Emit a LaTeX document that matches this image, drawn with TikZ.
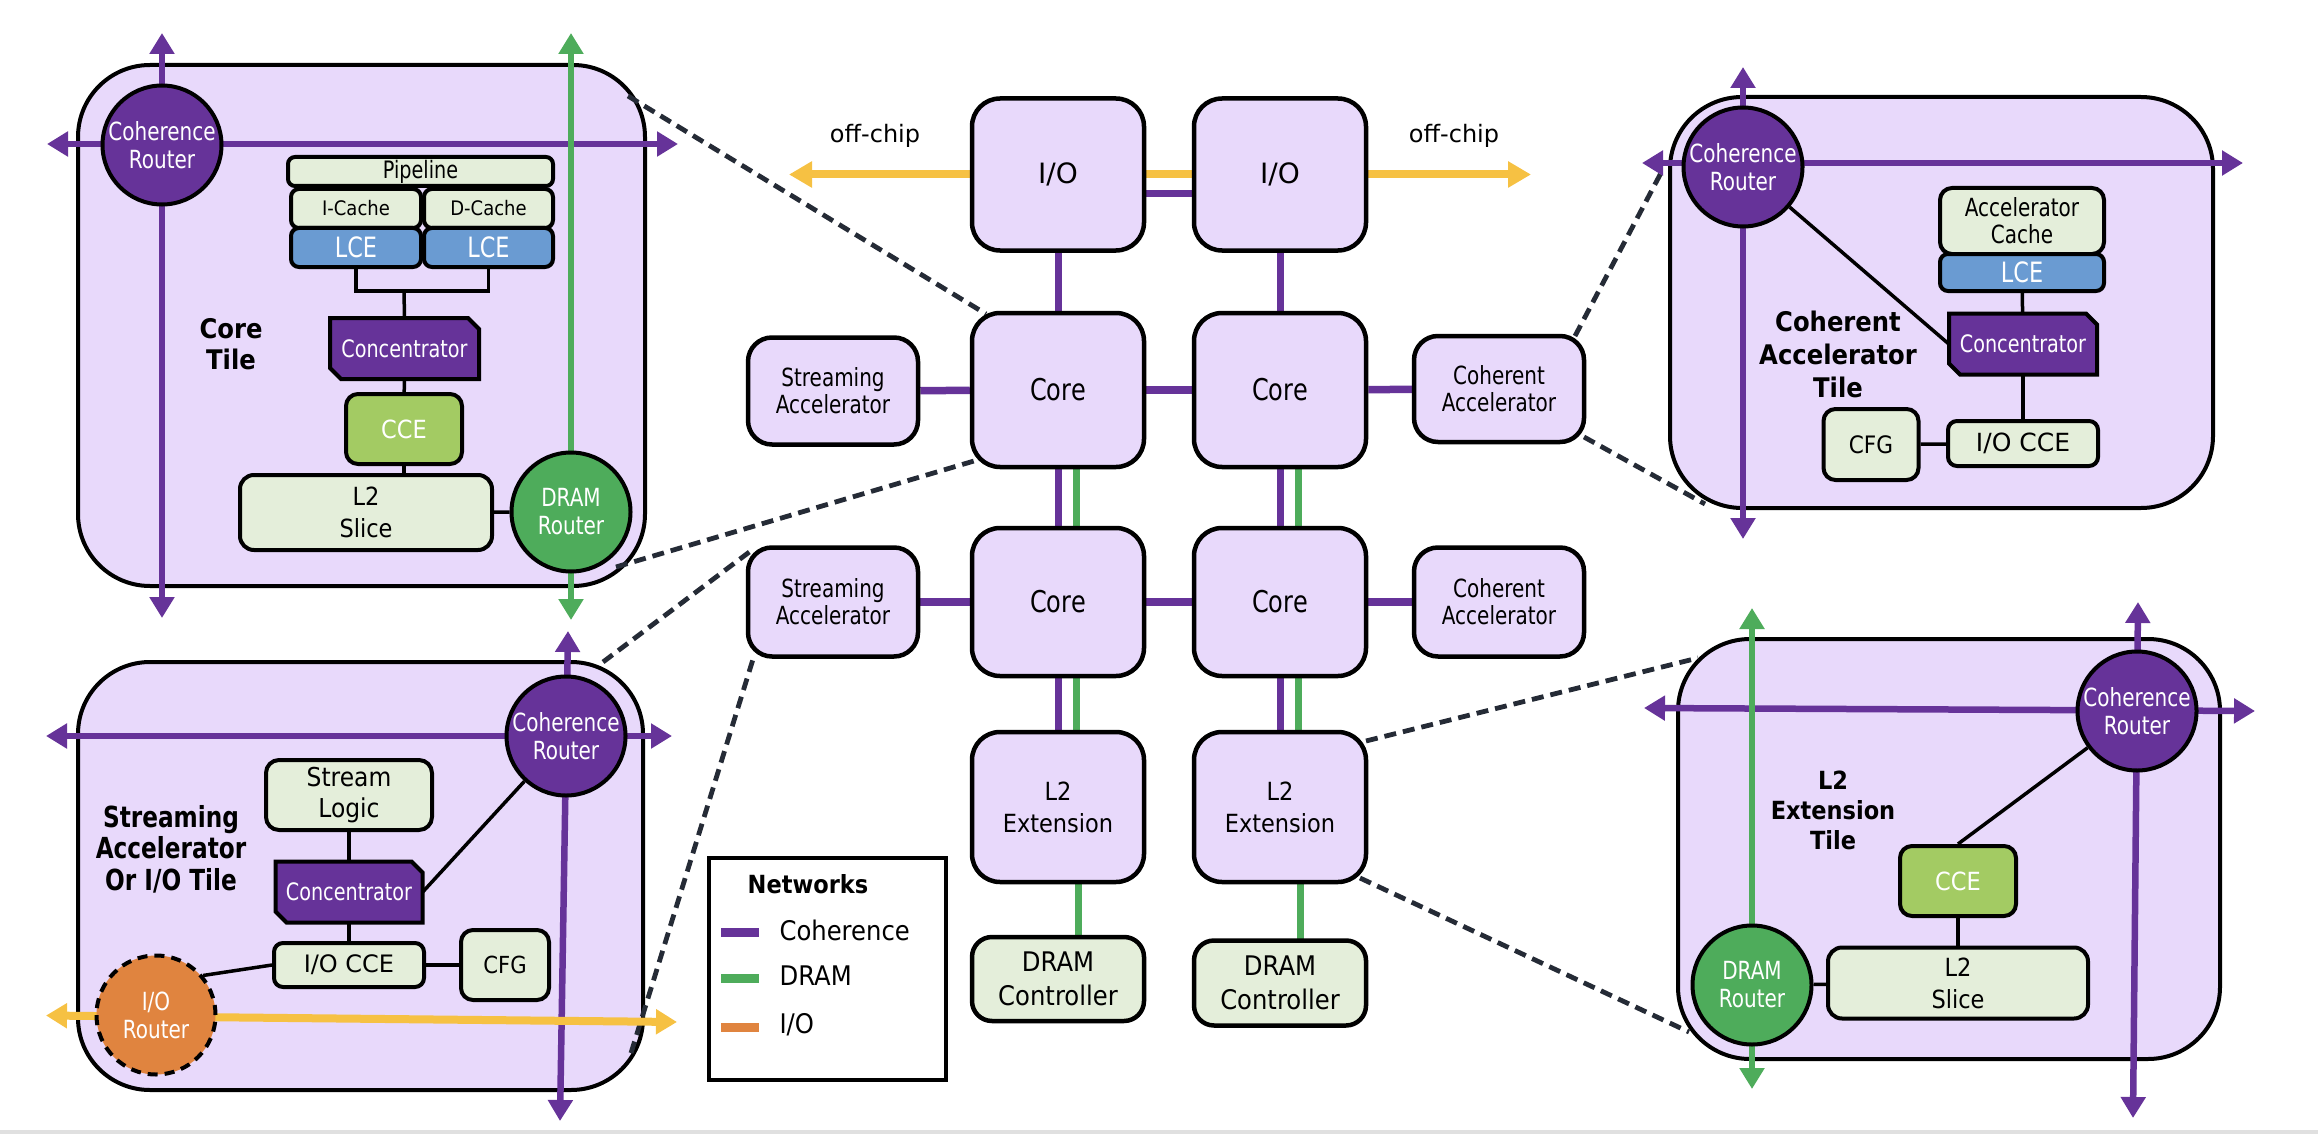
\documentclass[tikz,border=0pt]{standalone}
\usepackage{fontspec}
\setmainfont{DejaVu Sans}
\newfontfamily\semif{DejaVu Sans}[FakeStretch=0.9]
\newfontfamily\condf{DejaVu Sans}[FakeStretch=0.8]
\usetikzlibrary{arrows.meta,calc}
\pgfdeclarelayer{tiles}\pgfdeclarelayer{wires}\pgfsetlayers{tiles,wires,main}
\definecolor{lav}{HTML}{E8D9FB}
\definecolor{purp}{HTML}{663399}
\definecolor{grn}{HTML}{4EAC5B}
\definecolor{lgrn}{HTML}{E4EEDA}
\definecolor{ccec}{HTML}{A3CB63}
\definecolor{lceb}{HTML}{6A9BD2}
\definecolor{orng}{HTML}{E0843F}
\definecolor{yel}{HTML}{F6C143}
\definecolor{dsh}{HTML}{252B36}
\newcommand{\fsz}[2]{\fontsize{#1}{#2}\selectfont}
\newcommand{\concnode}[5]{%
 \path[concline] ({#2-#4/2},{#3-#5/2}) -- ({#2+#4/2-11},{#3-#5/2}) -- ({#2+#4/2},{#3-#5/2+11}) -- ({#2+#4/2},{#3+#5/2}) -- ({#2-#4/2+11},{#3+#5/2}) -- ({#2-#4/2},{#3+#5/2-11}) -- cycle;
 \node[conctext, minimum width=#4pt, minimum height=#5pt] (#1) at (#2,#3) {Concentrator};}
\begin{document}
\begin{tikzpicture}[x=1pt,y=-1pt,
 chip/.style={draw=black, line width=4.5pt, rounded corners=28pt, fill=lav, align=center, inner sep=0pt, minimum width=172pt},
 tile/.style={draw=black, line width=4pt, rounded corners=72pt, fill=lav, inner sep=0pt},
 gbox/.style={draw=black, line width=4pt, fill=lgrn, rounded corners=9pt, align=center, inner sep=0pt},
 lcebox/.style={draw=black, line width=4pt, fill=lceb, rounded corners=8pt, text=white, inner sep=0pt, font=\condf\fsz{28}{32}},
 ccebox/.style={draw=black, line width=4pt, fill=ccec, rounded corners=12pt, text=white, inner sep=0pt, font=\semif\fsz{25}{30}},
 router/.style={circle, draw=black, line width=4pt, fill=purp, text=white, minimum size=119pt, inner sep=0pt, align=center, font=\condf\fsz{25}{28}},
 drouter/.style={router, fill=grn},
 iorouter/.style={router, fill=orng, dash pattern=on 10pt off 7pt},
 conctext/.style={inner sep=0pt, text=white, font=\condf\fsz{24}{28}},
 concline/.style={draw=black, line width=4pt, fill=purp, line join=miter},
 wire/.style={line width=3.5pt, draw=black},
 netp/.style={draw=purp, line width=6.5pt, arrows={Triangle[width=24pt,length=21pt]-Triangle[width=24pt,length=21pt]}},
 netg/.style={netp, draw=grn},
 nety/.style={netp, draw=yel, line width=8pt},
 cwp/.style={draw=purp, line width=7.5pt},
 cwg/.style={draw=grn, line width=7.5pt},
 cwy/.style={draw=yel, line width=8pt},
 zoomline/.style={draw=dsh, line width=4.8pt, dash pattern=on 12pt off 7pt},
 tlabel/.style={font=\semif\bfseries\fsz{27}{31.5}, align=center},
]
\useasboundingbox (0,0) rectangle (2318,1134);
\fill[black!12] (0,1130) rectangle (2318,1134);

% ---------------- tiles ----------------
\begin{pgfonlayer}{tiles}
\node[tile, minimum width=567pt, minimum height=521pt] (ctile) at (361.5,325.5) {};
\node[tile, minimum width=565pt, minimum height=428pt] (stile) at (360.5,876) {};
\node[tile, minimum width=543pt, minimum height=411pt] (catile) at (1941.5,302.5) {};
\node[tile, minimum width=542pt, minimum height=420pt] (l2tile) at (1949,849) {};
\coordinate (z1a) at (628,96);   \coordinate (z1b) at (986,314);
\coordinate (z2a) at (616,567);  \coordinate (z2b) at (974,461);
\coordinate (z3a) at (603,662);  \coordinate (z3b) at (752,550);
\coordinate (z4a) at (631,1053); \coordinate (z4b) at (754,656);
\coordinate (z5a) at (1575,336); \coordinate (z5b) at (1662,171);
\coordinate (z6a) at (1584,437); \coordinate (z6b) at (1705,504);
\coordinate (z7a) at (1366,741); \coordinate (z7b) at (1698,658);
\coordinate (z8a) at (1360,878); \coordinate (z8b) at (1689,1032);
\draw[zoomline] (z1a) -- (z1b);
\draw[zoomline] (z2a) -- (z2b);
\draw[zoomline] (z3a) -- (z3b);
\draw[zoomline] (z4a) -- (z4b);
\draw[zoomline] (z5a) -- (z5b);
\draw[zoomline] (z6a) -- (z6b);
\draw[zoomline] (z7a) -- (z7b);
\draw[zoomline] (z8a) -- (z8b);
\end{pgfonlayer}

% ---------------- center chip ----------------
\node[chip, minimum height=152pt, font=\fsz{28}{32}] (io1) at (1058,174.5) {I/O};
\node[chip, minimum height=152pt, font=\fsz{28}{32}] (io2) at (1280,174.5) {I/O};
\node[chip, minimum height=154pt, font=\condf\fsz{30}{34}] (core1) at (1058,390) {Core};
\node[chip, minimum height=154pt, font=\condf\fsz{30}{34}] (core2) at (1280,390) {Core};
\node[chip, minimum height=148pt, font=\condf\fsz{30}{34}] (core3) at (1058,602) {Core};
\node[chip, minimum height=148pt, font=\condf\fsz{30}{34}] (core4) at (1280,602) {Core};
\node[chip, minimum width=170pt, minimum height=107pt, rounded corners=24pt, font=\condf\fsz{25}{27}] (sa1) at (833,391) {Streaming\\Accelerator};
\node[chip, minimum width=170pt, minimum height=106pt, rounded corners=24pt, font=\condf\fsz{25}{27}] (ca1) at (1499,389) {Coherent\\Accelerator};
\node[chip, minimum width=170pt, minimum height=109pt, rounded corners=24pt, font=\condf\fsz{25}{27}] (sa2) at (833,602) {Streaming\\Accelerator};
\node[chip, minimum width=170pt, minimum height=109pt, rounded corners=24pt, font=\condf\fsz{25}{27}] (ca2) at (1499,602) {Coherent\\Accelerator};
\node[chip, minimum height=150pt, font=\semif\fsz{25}{32}] (l2e1) at (1058,807) {L2\\Extension};
\node[chip, minimum height=150pt, font=\semif\fsz{25}{32}] (l2e2) at (1280,807) {L2\\Extension};
\node[gbox, line width=4.5pt, minimum width=172pt, minimum height=84pt, rounded corners=20pt, font=\semif\fsz{27}{34}] (dc1) at (1058,979) {DRAM\\Controller};
\node[gbox, line width=4.5pt, minimum width=172pt, minimum height=85pt, rounded corners=20pt, font=\semif\fsz{27}{34}] (dc2) at (1280,983) {DRAM\\Controller};
\node[font=\fsz{24}{28}] (offl) at (875,136) {off-chip};
\node[font=\fsz{24}{28}] (offr) at (1454,136) {off-chip};
\coordinate (offLend) at (789,174.5);
\coordinate (offRend) at (1531,174.5);

\begin{pgfonlayer}{wires}
\draw[cwy, -{Triangle[width=25pt,length=23pt]}] (io1.center) -- (offLend);
\draw[cwy, -{Triangle[width=25pt,length=23pt]}] (io2.center) -- (offRend);
\draw[cwy] (io1) -- (io2);
\draw[cwp] ([yshift=-19pt]io1.center) -- ([yshift=-19pt]io2.center);
\draw[cwp, line width=7pt] (io1) -- (core1);
\draw[cwp, line width=7pt] (io2) -- (core2);
\draw[cwp] (sa1) -- (core1);
\draw[cwp] (core1) -- (core2);
\draw[cwp] (core2) -- (ca1);
\draw[cwp] (sa2) -- (core3);
\draw[cwp] (core3) -- (core4);
\draw[cwp] (core4) -- (ca2);
\draw[cwp, line width=7pt] (core1) -- (core3);
\draw[cwg, line width=7pt] ([xshift=18pt]core1.center) -- ([xshift=18pt]core3.center);
\draw[cwp, line width=7pt] (core2) -- (core4);
\draw[cwg, line width=7pt] ([xshift=18pt]core2.center) -- ([xshift=18pt]core4.center);
\draw[cwp, line width=7pt] (core3) -- (l2e1);
\draw[cwg, line width=7pt] ([xshift=18pt]core3.center) -- ([xshift=18pt]l2e1.center);
\draw[cwp, line width=7pt] (core4) -- (l2e2);
\draw[cwg, line width=7pt] ([xshift=18pt]core4.center) -- ([xshift=18pt]l2e2.center);
\draw[cwg, line width=7pt] ([xshift=20pt]l2e1.center) -- ([xshift=20pt]dc1.center);
\draw[cwg, line width=7pt] ([xshift=20pt]l2e2.center) -- ([xshift=20pt]dc2.center);
\end{pgfonlayer}

% ---------------- core tile ----------------
\node[router] (cr1) at (162,145) {Coherence\\Router};
\node[gbox, minimum width=265pt, minimum height=29pt, rounded corners=7pt, font=\condf\fsz{24}{28}] (pipe) at (420.5,171.5) {Pipeline};
\node[gbox, minimum width=130pt, minimum height=39pt, rounded corners=8pt, font=\semif\fsz{20}{24}] (icache) at (356,208.5) {I-Cache};
\node[lcebox, minimum width=130pt, minimum height=39pt] (lce1) at (356,247.5) {LCE};
\node[gbox, minimum width=129pt, minimum height=39pt, rounded corners=8pt, font=\semif\fsz{20}{24}] (dcache) at (488.5,208.5) {D-Cache};
\node[lcebox, minimum width=129pt, minimum height=39pt] (lce2) at (488.5,247.5) {LCE};
\coordinate (br1) at (404,291);
\concnode{cc1}{404.5}{348.5}{149}{61}
\node[ccebox, minimum width=116pt, minimum height=70pt] (cce1) at (404,429) {CCE};
\node[gbox, minimum width=252pt, minimum height=75pt, rounded corners=14pt, font=\semif\fsz{25}{32}] (l2s1) at (366,512.5) {L2\\Slice};
\node[drouter] (dr1) at (571,512) {DRAM\\Router};
\node[tlabel] (ctl) at (231,344) {Core\\Tile};
\coordinate (ctvt) at (162,33);  \coordinate (ctvb) at (162,618);
\coordinate (cthl) at (47,144);  \coordinate (cthr) at (678,144);
\coordinate (ctgt) at (571,33);  \coordinate (ctgb) at (571,620);

% ---------------- streaming tile ----------------
\node[router] (sr) at (566,736) {Coherence\\Router};
\node[gbox, minimum width=166pt, minimum height=70pt, rounded corners=13pt, font=\semif\fsz{26}{31.5}] (slog) at (349,795) {Stream\\Logic};
\concnode{sc}{349}{892}{147}{61}
\node[gbox, minimum width=150pt, minimum height=44pt, rounded corners=9pt, font=\fsz{24}{28}] (sio) at (349,965) {I/O CCE};
\node[gbox, minimum width=88pt, minimum height=70pt, rounded corners=12pt, font=\semif\fsz{23.5}{28}] (scfg) at (505,965) {CFG};
\node[iorouter] (ior) at (156,1015) {I/O\\Router};
\node[tlabel, font=\condf\bfseries\fsz{29}{31.5}] (stl) at (171,849) {Streaming\\Accelerator\\Or I/O Tile};
\coordinate (stvt) at (568,631);  \coordinate (stvb) at (560,1121);
\coordinate (sthl) at (46,736);   \coordinate (sthr) at (672,736);
\coordinate (styl) at (46,1015.5); \coordinate (styr) at (677,1022);

% ---------------- coherent accelerator tile ----------------
\node[router] (car) at (1743,167) {Coherence\\Router};
\node[gbox, minimum width=164pt, minimum height=66pt, rounded corners=12pt, font=\condf\fsz{25}{27}] (acc) at (2022,221) {Accelerator\\Cache};
\node[lcebox, minimum width=164pt, minimum height=37pt] (lce3) at (2022,272.5) {LCE};
\concnode{cac}{2023}{344}{148}{61}
\node[gbox, minimum width=150pt, minimum height=45pt, rounded corners=9pt, font=\fsz{25}{28}] (caio) at (2023,443.5) {I/O CCE};
\node[gbox, minimum width=95pt, minimum height=71pt, rounded corners=12pt, font=\semif\fsz{24}{28}] (cacfg) at (1871,444.5) {CFG};
\node[tlabel, font=\semif\bfseries\fsz{27}{33}] (catl) at (1838,354) {Coherent\\Accelerator\\Tile};
\coordinate (cavt) at (1743,67);   \coordinate (cavb) at (1743,539);
\coordinate (cahl) at (1642,163);  \coordinate (cahr) at (2243,163);

% ---------------- L2 extension tile ----------------
\node[router] (lr) at (2137,711) {Coherence\\Router};
\node[drouter] (ldr) at (1752,985) {DRAM\\Router};
\node[ccebox, minimum width=116pt, minimum height=70pt] (lcce) at (1958,881) {CCE};
\node[gbox, minimum width=260pt, minimum height=71pt, rounded corners=14pt, font=\semif\fsz{25}{32}] (ll2s) at (1958,983) {L2\\Slice};
\node[tlabel, font=\semif\bfseries\fsz{25}{30}] (l2tl) at (1833,810) {L2\\Extension\\Tile};
\coordinate (lvt) at (2138,602);  \coordinate (lvb) at (2133,1118);
\coordinate (lhl) at (1644,708);  \coordinate (lhr) at (2255,711);
\coordinate (lgt) at (1752,608);  \coordinate (lgb) at (1752,1089);

% ---------------- tile wires ----------------
\begin{pgfonlayer}{wires}
\draw[netp] (ctvt) -- (ctvb);
\draw[netp] (cthl) -- (cthr);
\draw[netg] (ctgt) -- (ctgb);
\draw[wire] (lce1.south) |- (br1) -| (lce2.south);
\draw[wire] (br1) -- (cc1.north);
\draw[wire] (cc1) -- (cce1);
\draw[wire] (cce1.center) -- (cce1.center |- l2s1.center);
\draw[wire] (l2s1) -- (dr1);

\draw[netp] (stvt) -- (stvb);
\draw[netp] (sthl) -- (sthr);
\draw[nety] (styl) -- (styr);
\draw[wire] (slog) -- (sc);
\draw[wire] (sc) -- (sio);
\draw[wire] (sc.east) -- (sr);
\draw[wire] (ior.40) -- (sio.west);
\draw[wire] (sio) -- (scfg);

\draw[netp] (cavt) -- (cavb);
\draw[netp] (cahl) -- (cahr);
\draw[wire] (lce3) -- (cac);
\draw[wire] (cac) -- (caio);
\draw[wire] (cacfg) -- (caio);
\draw[wire] (car) -- (cac.west);

\draw[netp] (lvt) -- (lvb);
\draw[netp] (lhl) -- (lhr);
\draw[netg] (lgt) -- (lgb);
\draw[wire] (lr) -- (lcce.north);
\draw[wire] (lcce) -- (ll2s);
\draw[wire] (ldr) -- (ll2s);
\end{pgfonlayer}

% ---------------- legend ----------------
\node[draw=black, line width=4pt, fill=white, minimum width=237pt, minimum height=222pt, inner sep=0pt] (leg) at (827,969) {};
\node[font=\semif\bfseries\fsz{25}{30}] (legt) at (808,884) {Networks};
\node[fill=purp, minimum width=38pt, minimum height=9pt, inner sep=0pt] (sw1) at (740,932) {};
\node[fill=grn, minimum width=38pt, minimum height=9pt, inner sep=0pt] (sw2) at (740,978) {};
\node[fill=orng, minimum width=38pt, minimum height=9pt, inner sep=0pt] (sw3) at (740,1027.5) {};
\node[anchor=west, font=\semif\fsz{27}{30}] (lt1) at (776,930) {Coherence};
\node[anchor=west, font=\semif\fsz{27}{30}] (lt2) at (776,976) {DRAM};
\node[anchor=west, font=\semif\fsz{27}{30}] (lt3) at (776,1025) {I/O};
\end{tikzpicture}
\end{document}
